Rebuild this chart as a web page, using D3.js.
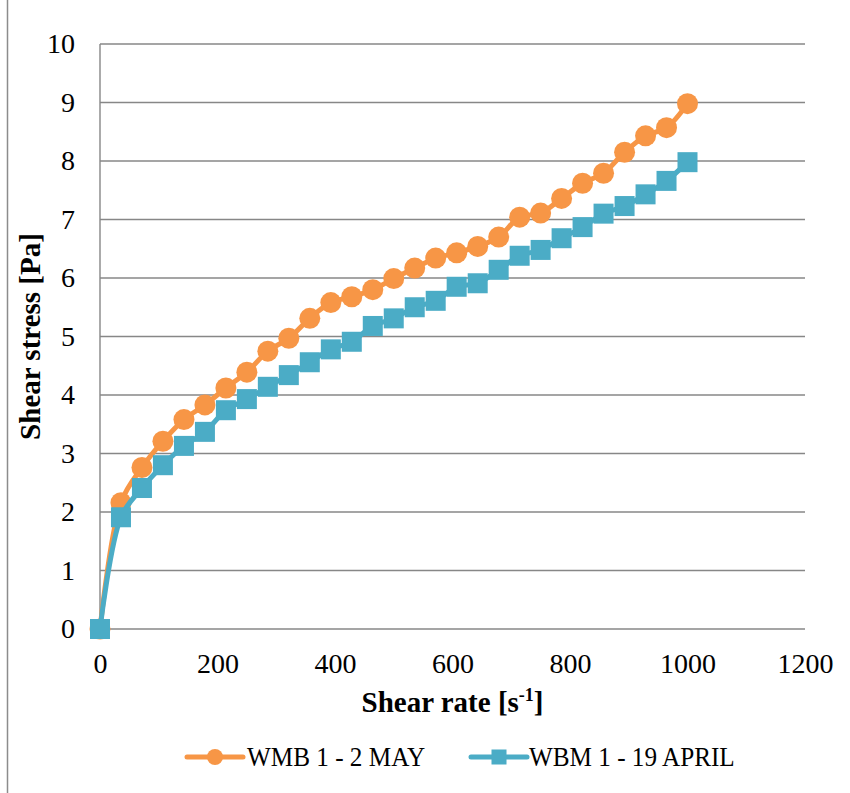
<!DOCTYPE html>
<html>
<head>
<meta charset="utf-8">
<script src="https://cdn.jsdelivr.net/npm/d3@7"></script>
<style>
  html, body { margin: 0; padding: 0; background: #fff; }
  svg text { font-family: "Liberation Serif", "Times New Roman", serif; fill: #000; }
</style>
</head>
<body>
<svg id="chart" width="850" height="793"></svg>
<script>
// Shear rate steps (s^-1): 0 then 28 equal steps to 1000
const shearRate = [0, 35.7, 71.4, 107.1, 142.9, 178.6, 214.3, 250, 285.7, 321.4, 357.1,
  392.9, 428.6, 464.3, 500, 535.7, 571.4, 607.1, 642.9, 678.6, 714.3, 750, 785.7,
  821.4, 857.1, 892.9, 928.6, 964.3, 1000];

// Shear stress (Pa), sample WMB 1 - 2 MAY
const stressMay = [0, 2.16, 2.76, 3.21, 3.58, 3.83, 4.12, 4.39, 4.75, 4.97, 5.31,
  5.58, 5.68, 5.80, 5.99, 6.17, 6.34, 6.43, 6.54, 6.70, 7.04, 7.11, 7.36,
  7.62, 7.79, 8.15, 8.43, 8.57, 8.98];

// Shear stress (Pa), sample WBM 1 - 19 APRIL
const stressApril = [0, 1.91, 2.41, 2.80, 3.13, 3.37, 3.74, 3.93, 4.14, 4.34, 4.56,
  4.78, 4.91, 5.18, 5.31, 5.50, 5.61, 5.85, 5.91, 6.14, 6.38, 6.48, 6.68,
  6.87, 7.10, 7.23, 7.43, 7.66, 7.98];

const seriesNames = ["WMB 1 - 2 MAY", "WBM 1 - 19 APRIL"];
const seriesColors = ["#F79646", "#4BACC6"];
const xTicks = [0, 200, 400, 600, 800, 1000, 1200];
const yTicks = [0, 1, 2, 3, 4, 5, 6, 7, 8, 9, 10];

const svg = d3.select("#chart");
const plot = { left: 100, right: 805, top: 44, bottom: 629 };

const x = d3.scaleLinear().domain([0, 1200]).range([plot.left, plot.right]);
const y = d3.scaleLinear().domain([0, 10]).range([plot.bottom, plot.top]);

const gridColor = "#878787";
const tickFont = "28px";

// outer chart frame edge on the left
svg.append("line")
  .attr("x1", 7.5).attr("x2", 7.5).attr("y1", 0).attr("y2", 793)
  .attr("stroke", "#8c8c8c").attr("stroke-width", 1.5);

// horizontal gridlines
svg.append("g")
  .selectAll("line")
  .data(yTicks)
  .join("line")
  .attr("x1", plot.left).attr("x2", plot.right)
  .attr("y1", d => y(d)).attr("y2", d => y(d))
  .attr("stroke", gridColor).attr("stroke-width", 1.4);

// y axis line
svg.append("line")
  .attr("x1", plot.left).attr("x2", plot.left)
  .attr("y1", plot.top).attr("y2", plot.bottom)
  .attr("stroke", gridColor).attr("stroke-width", 1.4);

// y tick labels
const yAxis = d3.axisLeft(y).tickValues(yTicks).tickFormat(d3.format("d")).tickSize(0).tickPadding(25);
const gy = svg.append("g").attr("transform", `translate(${plot.left},0)`).call(yAxis);
gy.select(".domain").remove();
gy.selectAll("text")
  .style("font-family", '"Liberation Serif", serif')
  .style("font-size", tickFont)
  .attr("fill", "#000");

// x tick labels
const xAxis = d3.axisBottom(x).tickValues(xTicks).tickFormat(d3.format("d")).tickSize(0).tickPadding(24);
const gx = svg.append("g").attr("transform", `translate(0,${plot.bottom})`).call(xAxis);
gx.select(".domain").remove();
gx.selectAll("text")
  .style("font-family", '"Liberation Serif", serif')
  .style("font-size", tickFont)
  .attr("fill", "#000");

// axis titles
svg.append("text")
  .attr("transform", `translate(40,${(plot.top + plot.bottom) / 2}) rotate(-90)`)
  .attr("text-anchor", "middle")
  .attr("font-weight", "bold")
  .attr("font-size", "29px")
  .text("Shear stress [Pa]");

const xt = svg.append("text")
  .attr("x", (plot.left + plot.right) / 2)
  .attr("y", 712)
  .attr("text-anchor", "middle")
  .attr("font-weight", "bold")
  .attr("font-size", "29px");
xt.append("tspan").text("Shear rate [s");
xt.append("tspan").attr("font-size", "18px").attr("dy", -11).text("-1");
xt.append("tspan").attr("dy", 11).text("]");

// series
const series = [
  { name: seriesNames[0], color: seriesColors[0], values: stressMay, marker: "circle" },
  { name: seriesNames[1], color: seriesColors[1], values: stressApril, marker: "square" }
];

const line = d3.line()
  .x(d => x(d[0]))
  .y(d => y(d[1]))
  .curve(d3.curveCatmullRom.alpha(0.5));

series.forEach(s => {
  const pts = shearRate.map((r, i) => [r, s.values[i]]);
  const g = svg.append("g");
  g.append("path")
    .datum(pts)
    .attr("d", line)
    .attr("fill", "none")
    .attr("stroke", s.color)
    .attr("stroke-width", 5)
    .attr("stroke-linejoin", "round");
  if (s.marker === "circle") {
    g.selectAll("circle").data(pts).join("circle")
      .attr("cx", d => x(d[0])).attr("cy", d => y(d[1]))
      .attr("r", 10.5).attr("fill", s.color);
  } else {
    const side = 20;
    g.selectAll("rect").data(pts).join("rect")
      .attr("x", d => x(d[0]) - side / 2).attr("y", d => y(d[1]) - side / 2)
      .attr("width", side).attr("height", side).attr("fill", s.color);
  }
});

// legend
const legendY = 757;
const legendItems = [
  { x0: 187, tx: 247 },
  { x0: 471, tx: 529 }
];
series.forEach((s, i) => {
  const li = legendItems[i];
  const g = svg.append("g");
  g.append("line")
    .attr("x1", li.x0).attr("x2", li.x0 + 56)
    .attr("y1", legendY).attr("y2", legendY)
    .attr("stroke", s.color).attr("stroke-width", 5).attr("stroke-linecap", "round");
  if (s.marker === "circle") {
    g.append("circle").attr("cx", li.x0 + 28).attr("cy", legendY).attr("r", 8).attr("fill", s.color);
  } else {
    g.append("rect").attr("x", li.x0 + 28 - 7.5).attr("y", legendY - 7.5)
      .attr("width", 15).attr("height", 15).attr("fill", s.color);
  }
  // legend text is set slightly condensed
  g.append("text")
    .attr("transform", `translate(${li.tx},${legendY + 9}) scale(0.9,1)`)
    .attr("font-size", "28px")
    .text(s.name);
});
</script>
</body>
</html>
